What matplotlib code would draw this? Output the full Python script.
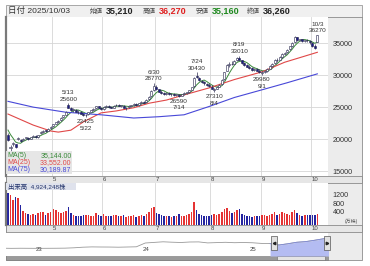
import matplotlib
matplotlib.use('Agg')
import matplotlib.pyplot as plt
from matplotlib.patches import Rectangle
import numpy as np
import pandas as pd

plt.rcParams['font.family'] = ['Liberation Sans', 'Noto Sans CJK JP', 'DejaVu Sans']

W, H = 370, 266

# ---- data ----
holidays = ['2025-04-29', '2025-05-05', '2025-05-06', '2025-07-21',
            '2025-08-11', '2025-09-15', '2025-09-23']
days = pd.bdate_range('2025-04-04', '2025-10-03')
days = days[~days.isin(pd.to_datetime(holidays))]

opens = [20700, 18600, 19300, 19200, 20000, 19800, 19900, 20200, 20200, 20100, 20400, 20500, 20300, 20900, 21100, 21400, 21300, 21700,
         22000, 22400, 22700, 23000, 23400, 23800, 25400, 24900, 24600, 24600, 24300, 24200, 24000, 23700, 23900, 24300, 24600, 24800, 25100, 24900,
         24700, 25000, 25200, 25000, 24900, 25300, 25400, 25200, 25200, 24800, 25000, 25200, 25300, 25500, 25300, 25600, 25800, 25800, 26200, 26700, 27600,
         28200, 27800, 27400, 27200, 27000, 27200, 27000, 27100, 26900, 26900, 26800, 27000, 27200, 27300, 27700, 28300, 29900, 29600, 29100, 28900, 28600, 28500,
         28200, 27700, 27900, 28200, 28600, 29400, 30700, 31600, 31800, 31800, 32300, 32700, 32300, 31900, 31500, 31300, 31100, 30800, 31000, 30700,
         30300, 30400, 30700, 31000, 31400, 31900, 32400, 32400, 32800, 33300, 33600, 34000, 34500, 35100, 35900, 35500, 35600, 35300, 35500, 35300,
         35000, 34600, 35210]
highs = [20900, 19100, 19600, 19300, 20400, 20000, 20200, 20400, 20300, 20400, 20600, 20600, 20700, 21200, 21400, 21500, 21700, 22000,
         22400, 22700, 23000, 23400, 23800, 24400, 25600, 25000, 24800, 24700, 24500, 24400, 24100, 23900, 24300, 24600, 24800, 25200, 25200, 25000,
         25100, 25300, 25300, 25200, 25300, 25500, 25500, 25400, 25300, 25000, 25300, 25400, 25600, 25600, 25700, 25900, 26000, 26200, 26700, 27600, 28770,
         28400, 27900, 27600, 27400, 27300, 27300, 27200, 27200, 27100, 27000, 27100, 27300, 27400, 27700, 28200, 29700, 30430, 29700, 29300, 29100, 28800, 28700,
         28400, 28000, 28300, 28600, 29400, 30500, 31700, 32000, 32200, 32300, 32800, 33010, 32400, 32000, 31700, 31500, 31300, 31100, 31100, 30900,
         30600, 30800, 31100, 31500, 31900, 32500, 32600, 32900, 33400, 33600, 34100, 34600, 35100, 36100, 36000, 35700, 35700, 35500, 35600, 35400,
         35100, 34800, 36270]
lows = [19700, 18000, 19000, 18600, 19800, 19500, 19800, 20000, 19900, 20000, 20300, 20200, 20200, 20800, 21000, 21100, 21200, 21600,
        21900, 22300, 22500, 22900, 23300, 23700, 24800, 24400, 24300, 24200, 24000, 23900, 23600, 23425, 23800, 24200, 24400, 24700, 24800, 24600,
        24600, 24900, 24900, 24800, 24800, 25100, 25100, 25000, 24800, 24600, 24900, 25000, 25200, 25200, 25200, 25500, 25600, 25700, 26100, 26600, 27500,
        27700, 27300, 27100, 26900, 26900, 26900, 26800, 26800, 26700, 26590, 26700, 26900, 27000, 27200, 27600, 28200, 29500, 29100, 28700, 28500, 28300, 28100,
        27800, 27310, 27800, 28100, 28500, 29300, 30600, 31300, 31500, 31700, 32200, 32300, 31800, 31400, 31200, 31000, 30700, 30600, 30600, 30300,
        29980, 30300, 30500, 30900, 31300, 31800, 32100, 32300, 32700, 33100, 33500, 33900, 34400, 35000, 35300, 35300, 35200, 35100, 35200, 34900,
        34400, 34100, 35160]
closes = [19900, 18700, 19400, 18800, 20200, 19700, 20100, 20300, 20000, 20300, 20500, 20300, 20600, 21100, 21300, 21200, 21600, 21900,
          22300, 22600, 22900, 23300, 23700, 24300, 24900, 24600, 24700, 24300, 24200, 24000, 23800, 23800, 24200, 24500, 24700, 25100, 24900, 24700,
          25000, 25200, 25000, 24900, 25200, 25400, 25200, 25300, 24900, 24900, 25200, 25300, 25500, 25300, 25600, 25800, 25700, 26100, 26600, 27500, 28300,
          27800, 27400, 27200, 27000, 27200, 27000, 27100, 26900, 27000, 26800, 27000, 27200, 27300, 27600, 28100, 29600, 29700, 29200, 28900, 28700, 28500, 28300,
          27900, 27800, 28200, 28500, 29300, 30400, 31500, 31800, 31700, 32200, 32600, 32400, 31900, 31500, 31300, 31100, 30800, 31000, 30700, 30500,
          30400, 30700, 30900, 31400, 31800, 32400, 32300, 32800, 33300, 33500, 33900, 34500, 35000, 35900, 35500, 35600, 35300, 35400, 35400, 35100,
          34600, 34300, 36260]
pre_closes = [22300, 22100, 21800, 21000]

volumes = [1450, 1380, 1150, 1300, 1250, 900, 650, 560, 520, 480, 500, 450, 560, 620, 580, 480, 560, 600,
           740, 680, 600, 560, 620, 650, 820, 560, 450, 430, 400, 420, 450, 480, 440, 420, 400, 560, 450, 420,
           500, 430, 420, 400, 480, 440, 420, 400, 450, 380, 400, 420, 460, 380, 420, 440, 400, 520, 600, 780, 820,
           560, 500, 450, 420, 400, 420, 380, 400, 420, 500, 420, 400, 450, 520, 600, 1060, 700, 500, 450, 420, 400, 430,
           480, 520, 450, 500, 620, 740, 780, 650, 560, 620, 700, 740, 500, 450, 420, 400, 380, 420, 400, 420,
           460, 450, 420, 480, 500, 580, 450, 520, 600, 560, 500, 480, 600, 700, 560, 480, 420, 450, 440, 460,
           450, 460, 492]

ma25_idx = [0, 10, 17, 20, 25, 30, 37, 43, 50, 56, 63, 70, 80, 90, 101, 110, 123]
ma25_val = [23920, 22200, 21270, 21100, 21400, 22700, 24100, 24400, 24900, 25600, 26100, 26900, 28000, 29300, 30500, 32000, 33552]
ma75_idx = [0, 10, 23, 37, 50, 60, 70, 80, 90, 101, 111, 123]
ma75_val = [25900, 25000, 24200, 23800, 23300, 23500, 23800, 25100, 26500, 27700, 28800, 30190]

ma_names = ['MA(5)', 'MA(25)', 'MA(75)']
ma_last = ['35,144.00', '33,552.00', '30,189.87']
ma_colors = ['#3a8a3a', '#e04848', '#4848d8']

marks = [('5/13', 24, 25600, 'high'), ('5/22', 31, 23425, 'low'),
         ('6/30', 58, 28770, 'high'), ('7/14', 68, 26590, 'low'),
         ('7/24', 75, 30430, 'high'), ('8/4', 82, 27310, 'low'),
         ('8/19', 92, 33010, 'high'), ('9/1', 101, 29980, 'low'),
         ('10/3', 123, 36270, 'high')]

nav_months = pd.date_range('2022-09-01', '2025-10-01', freq='MS')
nav_vals = [15600, 15300, 15500, 15400,
            15300, 15400, 15500, 15700, 16400, 17600, 18200, 18000, 17900, 17600, 18000, 18400,
            26000, 27200, 28400, 27600, 27000, 28000, 28200, 26200, 26800, 27400, 26600, 27000,
            26500, 25200, 24800, 22000, 24500, 27500, 28800, 31500, 34500, 36000]

header = [('始値', '35,210', '#222222', 90), ('高値', '36,270', '#e02020', 143),
          ('安値', '35,160', '#208a20', 196), ('終値', '36,260', '#222222', 247)]

# ---- helpers ----
fig = plt.figure(figsize=(W / 100, H / 100), dpi=100)


def px_axes(x0, y0, x1, y1, z=1):
    return fig.add_axes([x0 / W, 1 - y1 / H, (x1 - x0) / W, (y1 - y0) / H], zorder=z)


bg = fig.add_axes([0, 0, 1, 1], zorder=0)
bg.set_xlim(0, W)
bg.set_ylim(H, 0)
bg.axis('off')

fg = fig.add_axes([0, 0, 1, 1], zorder=10)
fg.set_xlim(0, W)
fg.set_ylim(H, 0)
fg.axis('off')
fg.patch.set_alpha(0)

x = np.arange(len(closes))
o = np.array(opens)
c = np.array(closes)
up = c >= o
month_starts = [i for i in range(1, len(days)) if days[i].month != days[i - 1].month]
month_lbls = [str(days[i].month) for i in month_starts]
XL = (-0.79, 127.24)
grid_c = '#d6d6d6'

# header bar
bg.add_patch(Rectangle((6, 5), 356, 12, facecolor='#f0f0f0', edgecolor='#9a9a9a', lw=0.6))
bg.text(7.5, 11, '日付 2025/10/03', fontsize=6.1, color='#333333', va='center')
for lab, val, col, hx in header:
    bg.text(hx, 11.3, lab, fontsize=4.7, color='#444444', va='center')
    bg.text(hx + 16, 11, val, fontsize=6.5, color=col, va='center', fontweight='bold')

# right grey panel + outer frame
bg.add_patch(Rectangle((328, 17), 34, 243, facecolor='#ececec', edgecolor='none'))
bg.add_patch(Rectangle((6, 17), 356, 243, facecolor='none', edgecolor='#8a8a8a', lw=0.6))

# ---- main price chart ----
ax = px_axes(6, 17, 328, 176)
ax.set_xlim(*XL)
ax.set_ylim(14250, 39060)
ax.set_yticks([15000, 20000, 25000, 30000, 35000])
ax.set_xticks(np.array(month_starts) - 0.5)
ax.grid(color=grid_c, lw=0.6)
ax.set_axisbelow(True)
ax.tick_params(length=0, labelbottom=False, labelleft=False, labelright=True,
               labelsize=5.2, labelcolor='#333333', pad=3.5)
for s in ['top', 'right', 'bottom']:
    ax.spines[s].set_visible(False)
ax.spines['left'].set_color('#7a7a7a')
ax.spines['left'].set_linewidth(1.6)

ma5 = pd.Series(pre_closes + closes).rolling(5).mean().to_numpy()[len(pre_closes):]
ax.plot(x, ma5, color=ma_colors[0], lw=0.7, zorder=2)
ax.plot(ma25_idx, ma25_val, color=ma_colors[1], lw=0.8, zorder=2)
ax.plot(ma75_idx, ma75_val, color=ma_colors[2], lw=0.8, zorder=2)

ax.vlines(x, lows, highs, color='#333355', lw=0.5, zorder=3)
body = np.maximum(np.abs(c - o), 60)
ax.bar(x, body, bottom=np.minimum(o, c), width=0.8,
       color=np.where(up, 'white', '#1c1c8a'), edgecolor='#22224a', lw=0.4, zorder=4)

for lab, i, v, kind in marks:
    if kind == 'high':
        ax.annotate(f'{v}', (i, v), xytext=(0, 1.2), textcoords='offset points',
                    ha='center', va='bottom', fontsize=4.6, color='#333333', zorder=6)
        ax.annotate(lab, (i, v), xytext=(0, 6.0), textcoords='offset points',
                    ha='center', va='bottom', fontsize=4.6, color='#333333', zorder=6)
    else:
        ax.annotate(f'{v}', (i, v), xytext=(0, -1.2), textcoords='offset points',
                    ha='center', va='top', fontsize=4.6, color='#333333', zorder=6)
        ax.annotate(lab, (i, v), xytext=(0, -6.0), textcoords='offset points',
                    ha='center', va='top', fontsize=4.6, color='#333333', zorder=6)

# MA legend box
fg.add_patch(Rectangle((6, 151), 66, 23, facecolor='#e4e4e4', edgecolor='none', alpha=0.92))
for k in range(3):
    fg.text(7, 155.5 + 7 * k, ma_names[k], fontsize=5, color=ma_colors[k], va='center')
    fg.text(71.5, 155.5 + 7 * k, ma_last[k], fontsize=5, color=ma_colors[k], va='center', ha='right')

# month strips
for y0 in (176, 225):
    bg.add_patch(Rectangle((6, y0), 356, 7, facecolor='#e6e6e6', edgecolor='#8a8a8a', lw=0.6, zorder=3))
    strip = px_axes(6, y0, 328, y0 + 7, z=4)
    strip.set_xlim(*XL)
    strip.set_ylim(0, 1)
    strip.axis('off')
    for i, lab in zip(month_starts, month_lbls):
        strip.text(i - 0.3, 0.45, lab, fontsize=4.3, color='#444444', va='center', ha='left')

# ---- volume ----
vx = px_axes(6, 183, 328, 225)
vx.set_xlim(*XL)
vx.set_ylim(0, 1930)
vx.set_xticks(np.array(month_starts) - 0.5)
vx.set_yticks([400, 800, 1200])
vx.grid(axis='x', color=grid_c, lw=0.6)
vx.set_axisbelow(True)
vx.bar(x, volumes, width=0.6, color=np.where(up, '#e53333', '#2424a0'))
vx.tick_params(length=0, labelbottom=False, labelleft=False, labelright=True,
               labelsize=5.2, labelcolor='#333333', pad=3.5)
for lbl in vx.get_yticklabels():
    lbl.set_va('bottom')
for s in ['top', 'right', 'bottom']:
    vx.spines[s].set_visible(False)
vx.spines['left'].set_color('#7a7a7a')
vx.spines['left'].set_linewidth(1.6)
bg.text(345, 221.5, '(万株)', fontsize=3.6, color='#555555', va='center')

fg.add_patch(Rectangle((6, 183), 70, 7, facecolor='#dfe2ec', edgecolor='none'))
fg.text(7.5, 186.6, '出来高  4,924,248株', fontsize=4.6, color='#22336a', va='center')

# ---- navigator ----
nx = px_axes(6, 233, 328, 256)
nyr = nav_months.year + (nav_months.month - 1) / 12 + 1 / 24
nx.set_xlim(2022.74, 2025.75)
nx.set_ylim(0, 46000)
nx.plot(nyr, nav_vals, color='#999999', lw=0.6)
sel = nyr >= 2025.2
nx.fill_between(nyr[sel], nav_vals[-sel.sum():], 0, color='#b4bcf2', lw=0)
nx.plot(nyr[sel], nav_vals[-sel.sum():], color='#7f8ad8', lw=0.6)
for yr in (2023, 2024, 2025):
    nx.text(yr + 0.02, 0.3, str(yr)[2:], fontsize=4.3, color='#444444',
            transform=nx.get_xaxis_transform(), va='center')
nx.set_xticks([])
nx.set_yticks([])
for s in nx.spines.values():
    s.set_visible(False)

# navigator handles + scrollbar
for hx, mk in ((274, '<'), (327, '>')):
    fg.add_patch(Rectangle((hx - 3, 236), 6, 14, facecolor='#e2e2e2', edgecolor='#555555', lw=0.5))
    fg.plot(hx, 243, marker=mk, ms=1.8, color='#222222')
bg.add_patch(Rectangle((6, 256), 322, 4, facecolor='#9a9a9a', edgecolor='#777777', lw=0.4, zorder=3))
bg.add_patch(Rectangle((277, 256), 48, 4, facecolor='#e4e4e4', edgecolor='#666666', lw=0.4, zorder=4))

fig.savefig('out.png', dpi=100)
